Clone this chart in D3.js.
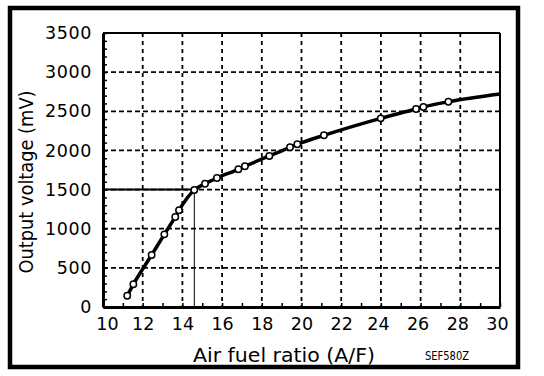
<!DOCTYPE html>
<html>
<head>
<meta charset="utf-8">
<script src="https://cdn.jsdelivr.net/npm/d3@7"></script>
<style>
  body { margin: 0; background: #fff; }
  text { font-family: "DejaVu Sans", sans-serif; fill: #000; }
</style>
</head>
<body>
<div id="chart-area"></div>
<script>
// measured points (air fuel ratio, output voltage mV)
var afr = [11.22, 11.53, 12.45, 13.09, 13.64, 13.83, 14.60, 15.14, 15.74, 16.82, 17.15, 18.38, 19.42, 19.79, 21.13, 23.99, 25.77, 26.14, 27.40];
var mv  = [144, 290, 664, 928, 1150, 1235, 1494, 1575, 1648, 1759, 1797, 1929, 2040, 2078, 2193, 2410, 2529, 2555, 2622];
// curve keeps going to the right edge without a marker
var curveEnd = [30, 2721];
var refPoint = [14.6, 1500];
var xTicks = [10, 12, 14, 16, 18, 20, 22, 24, 26, 28, 30];
var yTicks = [0, 500, 1000, 1500, 2000, 2500, 3000, 3500];

var width = 544, height = 376;
var margin = {top: 33, right: 44, bottom: 69, left: 103};
var w = width - margin.left - margin.right;
var h = height - margin.top - margin.bottom;

var svg = d3.select("#chart-area").append("svg")
    .attr("width", width)
    .attr("height", height);

// outer frame
svg.append("rect")
    .attr("x", 10).attr("y", 8)
    .attr("width", 508).attr("height", 359)
    .attr("fill", "none")
    .attr("stroke", "#000")
    .attr("stroke-width", 4.5);

var g = svg.append("g")
    .attr("transform", "translate(" + margin.left + "," + margin.top + ")");

var x = d3.scaleLinear().domain([10, 30]).range([0, w]);
var y = d3.scaleLinear().domain([0, 3500]).range([h, 0]);

// grid
g.selectAll(".vgrid")
    .data(xTicks.slice(1, -1))
    .enter().append("line")
    .attr("x1", d => x(d)).attr("x2", d => x(d))
    .attr("y1", 0).attr("y2", h)
    .attr("stroke", "#000")
    .attr("stroke-width", 1.8)
    .attr("stroke-dasharray", "4,4");
g.selectAll(".hgrid")
    .data(yTicks.slice(1, -1))
    .enter().append("line")
    .attr("x1", 0).attr("x2", w)
    .attr("y1", d => y(d)).attr("y2", d => y(d))
    .attr("stroke", "#000")
    .attr("stroke-width", 1.8)
    .attr("stroke-dasharray", "5,3");

// minor ticks (inside)
var minorY = d3.axisLeft(y).tickValues(d3.range(0, 3501, 100)).tickSizeInner(-4).tickSizeOuter(0).tickFormat("");
var minorX = d3.axisBottom(x).tickValues(d3.range(10, 31, 1)).tickSizeInner(-4).tickSizeOuter(0).tickFormat("");
g.append("g").call(minorY).call(s => s.select(".domain").remove())
    .selectAll("line").attr("stroke-width", 1.5);
g.append("g").attr("transform", "translate(0," + h + ")").call(minorX)
    .call(s => s.select(".domain").remove())
    .selectAll("line").attr("stroke-width", 1.5);

// top and right border
g.append("line").attr("x1", 0).attr("x2", w).attr("y1", 0).attr("y2", 0)
    .attr("stroke", "#000").attr("stroke-width", 2);
g.append("line").attr("x1", w).attr("x2", w).attr("y1", 0).attr("y2", h)
    .attr("stroke", "#000").attr("stroke-width", 2);

// labelled axes
var yAxis = g.append("g")
    .call(d3.axisLeft(y).tickValues(yTicks).tickFormat(d3.format("d")).tickSize(0).tickPadding(11));
yAxis.select(".domain").attr("stroke-width", 3);
yAxis.selectAll("text")
    .attr("font-size", 17.5)
    .attr("letter-spacing", 0.6)
    .attr("font-family", "DejaVu Sans");

var xAxis = g.append("g")
    .attr("transform", "translate(0," + h + ")")
    .call(d3.axisBottom(x).tickValues(xTicks).tickSize(0).tickPadding(11));
xAxis.select(".domain").attr("stroke-width", 3);
xAxis.selectAll("text")
    .attr("font-size", 17.5)
    .attr("font-family", "DejaVu Sans")
    .attr("dx", d => d == 10 ? 4 : (d >= 24 ? -3 : 0));

// reference lines at 1500 mV
g.append("line")
    .attr("x1", 0).attr("x2", x(refPoint[0]))
    .attr("y1", y(refPoint[1])).attr("y2", y(refPoint[1]))
    .attr("stroke", "#000").attr("stroke-width", 2);
g.append("line")
    .attr("x1", x(refPoint[0])).attr("x2", x(refPoint[0]))
    .attr("y1", y(refPoint[1])).attr("y2", h)
    .attr("stroke", "#000").attr("stroke-width", 1);

// curve
var pts = afr.map((d, i) => [d, mv[i]]);
var line = d3.line()
    .x(d => x(d[0]))
    .y(d => y(d[1]))
    .curve(d3.curveMonotoneX);
g.append("path")
    .datum(pts.concat([curveEnd]))
    .attr("d", line)
    .attr("fill", "none")
    .attr("stroke", "#000")
    .attr("stroke-width", 3.5);

g.selectAll("circle")
    .data(pts)
    .enter().append("circle")
    .attr("cx", d => x(d[0]))
    .attr("cy", d => y(d[1]))
    .attr("r", 3.2)
    .attr("fill", "#fff")
    .attr("stroke", "#000")
    .attr("stroke-width", 1.5);

// titles
svg.append("text")
    .attr("text-anchor", "middle")
    .attr("transform", "translate(33,182) rotate(-90)")
    .attr("font-size", 20)
    .attr("textLength", 183)
    .attr("lengthAdjust", "spacingAndGlyphs")
    .text("Output voltage (mV)");
svg.append("text")
    .attr("text-anchor", "middle")
    .attr("x", 284)
    .attr("y", 361.5)
    .attr("font-size", 20)
    .attr("textLength", 182)
    .attr("lengthAdjust", "spacingAndGlyphs")
    .text("Air fuel ratio (A/F)");
svg.append("text")
    .attr("x", 425)
    .attr("y", 360)
    .attr("font-size", 13)
    .attr("textLength", 44)
    .attr("lengthAdjust", "spacingAndGlyphs")
    .text("SEF580Z");
</script>
</body>
</html>
